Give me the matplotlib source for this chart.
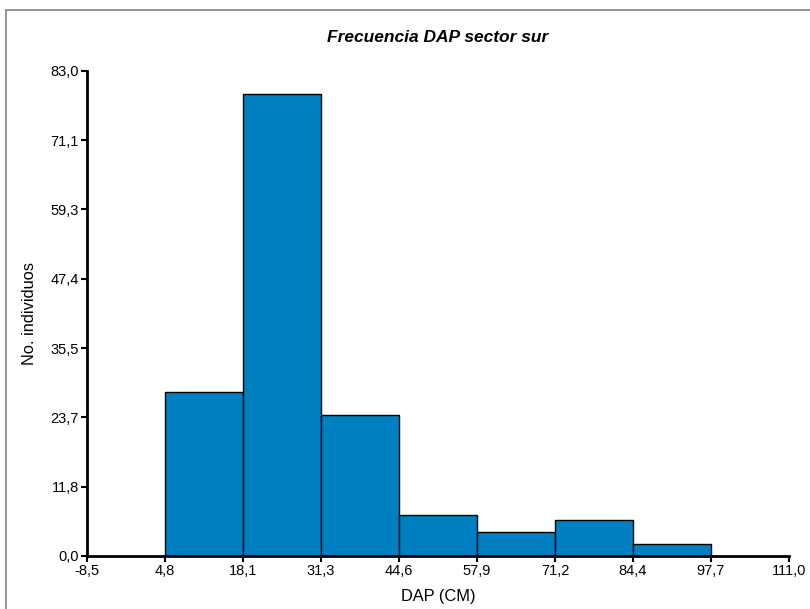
import matplotlib
matplotlib.use("Agg")
from matplotlib import pyplot as plt
from matplotlib.patches import Rectangle

plt.rcParams['font.family'] = ['Liberation Sans', 'DejaVu Sans']

# bordes de clase (DAP, cm) y frecuencias
bin_edges = [4.8, 18.1, 31.3, 44.6, 57.9, 71.2, 84.4, 97.7]
counts = [28, 79, 24, 7, 4, 6, 2]

x_ticks = [-8.5, 4.8, 18.1, 31.3, 44.6, 57.9, 71.2, 84.4, 97.7, 111.0]
y_ticks = [0.0, 11.8, 23.7, 35.5, 47.4, 59.3, 71.1, 83.0]


def fmt(v):
    return f"{v:.1f}".replace('.', ',')


fig = plt.figure(figsize=(8.1, 6.09), dpi=100)
# marco gris de la figura
fig.patches.append(Rectangle((6 / 810, -0.1), 1.2, 1.1 - 10 / 609,
                             transform=fig.transFigure, fill=False,
                             edgecolor='#808080', linewidth=1.2))

ax = fig.add_axes([87 / 810, 1 - 555.5 / 609, (789 - 87) / 810, (555.5 - 71) / 609])

widths = [bin_edges[i + 1] - bin_edges[i] for i in range(len(counts))]
ax.bar(bin_edges[:-1], counts, width=widths, align='edge',
       color='#0080C0', edgecolor='black', linewidth=1.0)

ax.set_xlim(-8.5, 111.0)
ax.set_ylim(0, 83.0)
ax.set_xticks(x_ticks)
ax.set_xticklabels([fmt(v) for v in x_ticks])
ax.set_yticks(y_ticks)
ax.set_yticklabels([fmt(v) for v in y_ticks])

for s in ['top', 'right']:
    ax.spines[s].set_visible(False)
for s in ['left', 'bottom']:
    ax.spines[s].set_linewidth(2.0)
ax.tick_params(axis='both', direction='out', length=4, width=1.5,
               labelsize=10.5, colors='black', pad=2)

ax.set_xlabel("DAP (CM)", fontsize=11.8, va='center')
ax.xaxis.set_label_coords(0.5, (555.5 - 597) / 484.5)
ax.set_ylabel("No. individuos", fontsize=11.8, va='center')
ax.yaxis.set_label_coords((30 - 87) / 702, 0.5)
fig.text(438 / 810, 1 - 37 / 609, "Frecuencia DAP sector sur", ha='center', va='center',
         fontsize=12.5, fontweight='bold', fontstyle='italic')

fig.savefig("out.png", dpi=100)
